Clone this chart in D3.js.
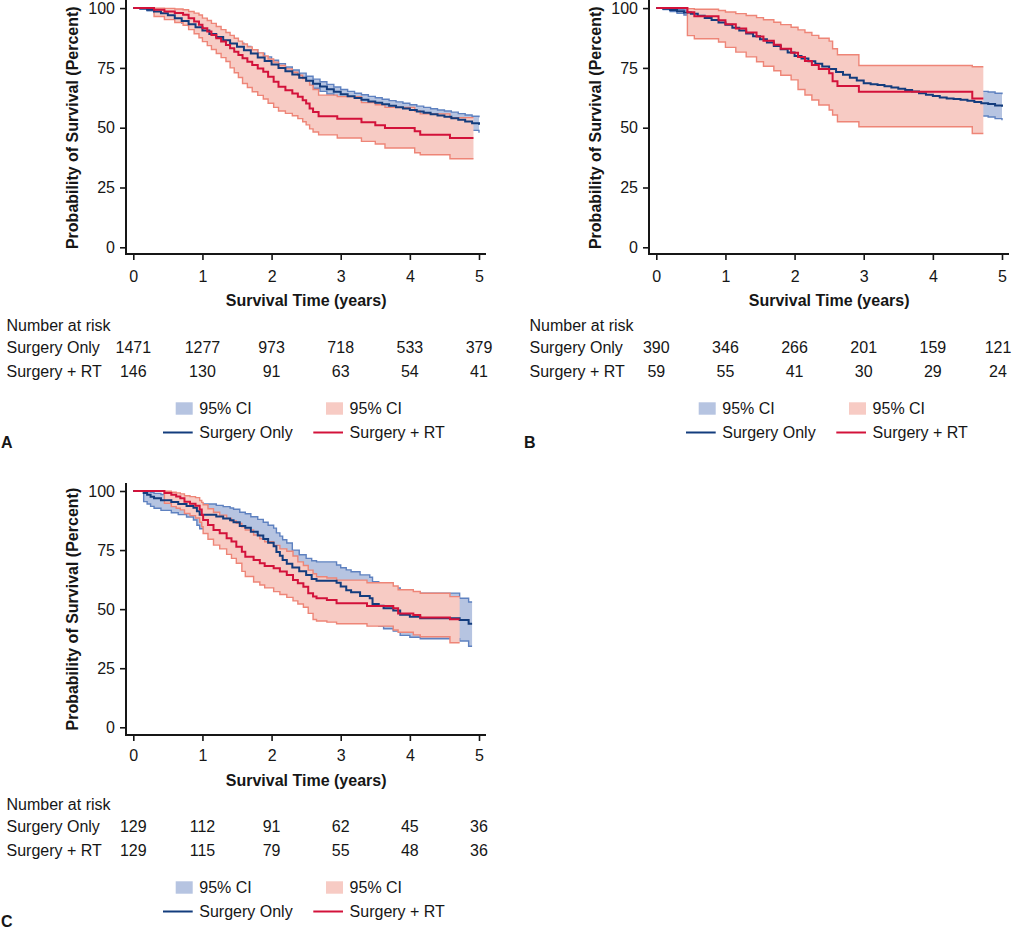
<!DOCTYPE html>
<html>
<head>
<meta charset="utf-8">
<script src="https://cdn.jsdelivr.net/npm/d3@7"></script>
<style>
  body { margin: 0; background: #fff; }
  svg { display: block; font-family: "Liberation Sans", Arial, Helvetica, sans-serif; }
</style>
</head>
<body>
<svg id="chart" width="1012" height="929"></svg>
<script>
// ---- shared labels / ticks
const years = [0, 1, 2, 3, 4, 5]
const percentTicks = [0, 25, 50, 75, 100]
const groups = ['Surgery Only', 'Surgery + RT']
const ciLabel = '95% CI'
const panelLetters = ['A', 'B', 'C']
const xTitle = 'Survival Time (years)'
const yTitle = 'Probability of Survival (Percent)'
const riskTitle = 'Number at risk'

// ---- panel A
const tenthYears = [0,0.1,0.2,0.3,0.4,0.5,0.6,0.7,0.8,0.9,1,1.1,1.2,1.3,1.4,1.5,1.6,1.7,1.8,1.9,2,2.1,2.2,2.3,2.4,2.5,2.6,2.7,2.8,2.9,3,3.1,3.2,3.3,3.4,3.5,3.6,3.7,3.8,3.9,4,4.1,4.2,4.3,4.4,4.5,4.6,4.7,4.8,4.9,5]
const aOnlySurv = [100,99.8,99.3,98.6,97.8,97.0,95.8,94.6,93.3,92.0,90.6,89.2,87.9,86.6,85.2,83.8,82.4,81.0,79.4,77.9,76.4,75.0,73.6,72.2,70.9,69.6,68.4,67.2,66.1,65.0,64.0,63.2,62.4,61.7,61.0,60.4,59.8,59.2,58.6,58.0,57.4,56.8,56.2,55.6,55.1,54.6,54.0,53.3,52.6,51.9,51.2]
const aOnlyLow = [100,99.6,98.9,98.1,97.2,96.3,95.0,93.7,92.3,90.9,89.4,87.9,86.6,85.2,83.7,82.3,80.8,79.4,77.7,76.2,74.6,73.2,71.8,70.3,69.0,67.7,66.5,65.2,64.1,63.0,62.0,61.2,60.4,59.6,58.9,58.3,57.7,57.1,56.4,55.8,55.2,54.6,53.9,53.3,52.8,52.2,51.5,50.7,49.9,48.9,47.9]
const aOnlyHigh = [100,100,99.7,99.1,98.4,97.7,96.6,95.5,94.3,93.1,91.8,90.5,89.2,88.0,86.7,85.3,84.0,82.6,81.1,79.6,78.2,76.8,75.4,74.1,72.8,71.5,70.3,69.2,68.1,67.0,66.0,65.2,64.4,63.8,63.1,62.5,61.9,61.3,60.8,60.2,59.6,59.0,58.5,57.9,57.4,57.0,56.5,55.9,55.3,54.8,54.4]

const aRtTime = [0,0.3,0.45,0.6,0.72,0.8,0.88,0.95,1.0,1.07,1.13,1.2,1.27,1.34,1.4,1.46,1.52,1.58,1.65,1.72,1.8,1.88,1.95,2.03,2.1,2.2,2.3,2.38,2.45,2.5,2.55,2.6,2.68,2.95,3.3,3.5,3.64,4.07,4.15,4.58,4.92]
const aRtSurv = [100,99.3,98.6,97.9,97.2,95.8,94.4,93.0,91.6,90.2,88.8,87.4,86.0,84.6,83.2,81.8,80.4,79.0,77.6,76.2,74.8,73.4,71.3,69.2,67.1,65.7,64.3,62.9,61.5,60.1,58.0,56.6,54.8,53.7,52.3,51.0,49.9,48.5,47.1,45.7,45.7]
const aRtLow = [100,96.5,95.2,94.0,92.8,91.0,89.3,87.6,86.0,84.3,82.7,81.0,79.3,77.7,75.0,73.0,71.0,68.5,66.8,65.0,63.5,62.0,60.2,58.5,57.0,56.0,55.0,53.8,52.5,51.2,49.5,48.2,47.0,45.7,44.3,43.2,41.5,39.5,38.7,37.0,37.0]
const aRtHigh = [100,100,99.9,99.6,99.3,98.6,97.9,97.1,95.8,94.8,93.6,92.3,91.0,89.8,88.6,87.4,86.2,85.0,83.8,82.6,81.3,80.0,78.7,77.4,76.0,74.6,73.2,71.9,70.6,69.5,67.8,66.0,63.6,63.0,60.5,59.6,58.5,57.0,55.8,54.2,54.2]

const aRiskOnly = [1471, 1277, 973, 718, 533, 379]
const aRiskRt = [146, 130, 91, 63, 54, 41]

// ---- panel B
const bOnlySurv = [100,99.7,99.2,98.7,98.2,97.6,96.8,95.9,95.0,94.0,93.0,91.8,90.6,89.4,88.2,87.0,85.6,84.2,82.8,81.4,80.0,78.9,77.8,76.7,75.6,74.5,73.3,72.1,70.9,69.7,68.6,68.2,67.8,67.3,66.8,66.3,65.8,65.1,64.4,63.8,63.3,62.6,62.2,62.0,61.7,61.3,60.7,60.2,59.9,59.3,58.8]
const bOnlyLow = [100,99.4,98.6,97.8,97.1,96.3,95.2,94.1,93.0,91.8,90.6,89.2,87.8,86.5,85.1,83.8,82.2,80.7,79.2,77.7,76.2,75.0,73.8,72.6,71.4,70.2,68.9,67.7,66.4,65.1,64.0,63.5,63.1,62.6,62.0,61.5,61.0,60.2,59.5,58.8,58.3,57.6,57.1,56.9,56.6,56.1,55.5,54.9,54.5,53.8,53.1]
const bOnlyHigh = [100,100,99.8,99.5,99.2,98.8,98.3,97.6,96.9,96.1,95.3,94.3,93.3,92.2,91.2,90.1,88.9,87.6,86.3,85.0,83.7,82.7,81.7,80.7,79.7,78.7,77.6,76.4,75.3,74.1,73.1,72.7,72.3,71.8,71.4,70.9,70.4,69.8,69.1,68.6,68.1,67.4,67.0,66.8,66.5,66.2,65.6,65.2,64.9,64.4,64.0]

const bRtTime = [0,0.45,0.55,0.9,1.0,1.15,1.3,1.45,1.55,1.7,1.8,1.95,2.05,2.15,2.25,2.35,2.5,2.55,2.62,2.93,4.57,4.73]
const bRtSurv = [100,98.3,96.6,94.9,93.2,91.5,89.8,88.1,86.4,84.7,83.0,81.3,79.6,77.9,76.2,74.5,72.8,69.4,67.4,65.0,62.2,62.2]
const bRtLow = [100,88.5,87.2,85.8,83.6,81.6,79.6,77.6,75.7,73.8,71.9,70.0,66.0,63.7,61.6,59.5,57.4,55.3,52.5,50.4,47.6,47.6]
const bRtHigh = [100,99.8,99.5,99.0,98.4,97.7,96.9,96.0,95.1,94.1,93.1,92.0,90.9,89.8,88.6,87.4,86.2,83.0,80.5,76.0,75.5,75.5]

const bRiskOnly = [390, 346, 266, 201, 159, 121]
const bRiskRt = [59, 55, 41, 30, 29, 24]

// ---- panel C
const cOnlyTime = [0,0.15,0.2,0.25,0.3,0.4,0.55,0.65,0.77,0.87,0.92,0.96,1.2,1.3,1.4,1.45,1.54,1.62,1.7,1.8,1.88,1.95,2.03,2.07,2.12,2.16,2.22,2.3,2.4,2.5,2.58,2.65,2.94,3.0,3.08,3.15,3.28,3.42,3.46,3.55,3.62,3.76,3.86,4.0,4.15,4.72,4.85,4.9]
const cOnlySurv = [100,99.2,98.4,97.6,96.9,96.1,95.3,94.5,93.7,92.9,91.4,90.0,89.2,88.4,87.6,86.8,85.2,84.4,82.8,81.2,79.7,78.1,76.6,74.2,72.6,70.8,69.2,67.6,66.0,64.4,62.8,62.0,61.2,59.6,58.0,57.2,55.6,54.6,52.2,51.4,50.4,49.4,47.6,46.8,46.2,45.4,43.8,43.8]
const cOnlyLow = [100,95.5,94.5,93.5,92.7,91.8,90.8,90.0,89.0,87.7,85.5,84.0,83.0,82.0,81.0,80.0,78.2,77.2,75.5,73.8,72.0,70.3,68.7,66.2,64.5,62.6,60.9,59.2,57.6,56.0,54.3,53.5,52.6,51.0,49.3,48.5,46.9,45.9,43.5,42.7,41.7,40.7,38.9,38.1,37.5,36.5,34.3,34.3]
const cOnlyHigh = [100,100,99.8,99.4,99.0,98.5,98.0,97.6,97.1,96.6,95.5,94.5,93.9,93.4,92.8,92.3,91.0,90.4,89.1,88.0,86.8,85.5,84.3,82.3,80.9,79.4,78.0,75.0,73.0,71.5,70.5,70.0,68.7,67.5,66.6,65.8,64.5,63.5,61.6,60.8,59.9,59.0,58.1,57.3,56.8,54.6,53.0,53.0]

const cRtTime = [0,0.45,0.55,0.62,0.68,0.74,0.82,0.9,0.96,0.99,1.01,1.08,1.16,1.25,1.35,1.42,1.49,1.57,1.62,1.74,1.83,1.9,2.03,2.12,2.22,2.31,2.38,2.46,2.53,2.6,2.65,2.8,2.94,3.38,3.76,3.83,4.05,4.15,4.58,4.72]
const cRtSurv = [100,99.2,98.4,97.7,96.9,95.4,94.6,93.8,92.2,89.8,87.7,85.6,83.5,82.1,80.0,78.6,76.4,74.3,72.2,70.8,69.4,68.3,67.3,65.9,64.5,62.3,61.0,59.5,56.7,55.4,54.6,53.9,52.5,51.3,50.4,48.2,47.5,46.5,45.7,45.7]
const cRtLow = [100,94.8,93.4,92.7,92.0,90.5,89.6,88.6,86.8,84.9,82.0,79.6,77.1,75.5,73.2,71.5,69.4,66.0,63.8,61.5,60.2,59.0,57.4,56.2,55.0,53.5,52.2,50.8,48.2,45.6,45.0,44.5,43.8,42.8,41.2,40.2,39.1,38.3,35.8,35.8]
const cRtHigh = [100,99.9,99.5,99.2,98.8,98.0,97.6,97.2,96.0,95.2,94.2,92.5,91.0,89.8,88.4,87.3,86.3,84.8,83.5,81.4,79.8,78.5,77.0,75.5,74.5,72.5,70.0,68.5,66.5,65.0,63.7,63.2,62.3,61.2,59.8,58.2,57.5,56.7,55.3,55.3]

const cRiskOnly = [129, 112, 91, 62, 45, 36]
const cRiskRt = [129, 115, 79, 55, 48, 36]

// ---- styles
const BLUE_LINE = '#133c7d'
const RED_LINE = '#d3123a'
const BLUE_FILL = '#b6c4e1'
const BLUE_EDGE = '#5e81c0'
const PINK_FILL = '#f7cbc4'
const PINK_EDGE = '#ee8577'
const INK = '#161616'

const svg = d3.select('#chart')

const toRows = (t, s, lo, hi) => t.map((d, i) => ({t: d, s: s[i], lo: lo[i], hi: hi[i]}))

const panels = [
  {letter: panelLetters[0], ox: 0, yTop: 8.1, yBot: 247.3, axisY: 254, tickPad: 11, titleY: 300, narY: 325,
   only: toRows(tenthYears, aOnlySurv, aOnlyLow, aOnlyHigh), rt: toRows(aRtTime, aRtSurv, aRtLow, aRtHigh),
   risk: [aRiskOnly, aRiskRt]},
  {letter: panelLetters[1], ox: 523, yTop: 8.1, yBot: 247.3, axisY: 254, tickPad: 11, titleY: 300, narY: 325,
   only: toRows(tenthYears, bOnlySurv, bOnlyLow, bOnlyHigh), rt: toRows(bRtTime, bRtSurv, bRtLow, bRtHigh),
   risk: [bRiskOnly, bRiskRt]},
  {letter: panelLetters[2], ox: 0, yTop: 491, yBot: 727.3, axisY: 735, tickPad: 8.5, titleY: 780, narY: 804,
   only: toRows(cOnlyTime, cOnlySurv, cOnlyLow, cOnlyHigh), rt: toRows(cRtTime, cRtSurv, cRtLow, cRtHigh),
   risk: [cRiskOnly, cRiskRt]}
]

function drawPanel(p){
  const g = svg.append('g').attr('transform', `translate(${p.ox},0)`)
  const x = d3.scaleLinear().domain([0, 5]).range([133.3, 479])
  const y = d3.scaleLinear().domain([0, 100]).range([p.yBot, p.yTop])

  const band = d3.area().curve(d3.curveStepAfter)
    .x(d => x(d.t)).y0(d => y(d.lo)).y1(d => y(d.hi))
  const edge = key => d3.line().curve(d3.curveStepAfter).x(d => x(d.t)).y(d => y(d[key]))

  // confidence bands: surgery only first, surgery + RT on top
  ;[[p.only, BLUE_FILL, BLUE_EDGE], [p.rt, PINK_FILL, PINK_EDGE]].forEach(([rows, fill, stroke]) => {
    g.append('path').datum(rows).attr('d', band).attr('fill', fill)
    ;['lo', 'hi'].forEach(k => {
      g.append('path').datum(rows).attr('d', edge(k))
        .attr('fill', 'none').attr('stroke', stroke).attr('stroke-width', 1.4)
    })
  })

  // survival estimates
  ;[[p.only, BLUE_LINE], [p.rt, RED_LINE]].forEach(([rows, color]) => {
    g.append('path').datum(rows).attr('d', edge('s'))
      .attr('fill', 'none').attr('stroke', color).attr('stroke-width', 2)
  })

  // axes (L shaped frame)
  const yAxis = g.append('g').attr('transform', 'translate(126,0)')
    .call(d3.axisLeft(y).tickValues(percentTicks).tickSize(6).tickPadding(5))
  const xAxis = g.append('g').attr('transform', `translate(0,${p.axisY})`)
    .call(d3.axisBottom(x).tickValues(years).tickFormat(d3.format('d')).tickSize(6).tickPadding(p.tickPad))
  ;[yAxis, xAxis].forEach(a => {
    a.select('.domain').remove()
    a.selectAll('line').attr('stroke', INK).attr('stroke-width', 1.6)
    a.selectAll('text').attr('fill', INK).style('font-size', '16px')
      .style('font-family', '"Liberation Sans", Arial, sans-serif')
  })
  g.append('path')
    .attr('d', `M126,${p.yTop - 8}V${p.axisY}H486`)
    .attr('fill', 'none').attr('stroke', INK).attr('stroke-width', 2)

  // axis titles
  g.append('text').attr('x', (x(0) + x(5)) / 2).attr('y', p.titleY).attr('dy', '0.35em')
    .attr('text-anchor', 'middle').attr('font-weight', 'bold').attr('font-size', 16).attr('fill', INK)
    .text(xTitle)
  g.append('text').attr('transform', `translate(72,${(p.yTop + p.yBot) / 2}) rotate(-90)`).attr('dy', '0.35em')
    .attr('text-anchor', 'middle').attr('font-weight', 'bold').attr('font-size', 16).attr('fill', INK)
    .text(yTitle)

  // number at risk table (last column kept inside the page)
  const maxX = 1012 - p.ox - 14
  const tbl = g.append('g').attr('font-size', 16).attr('fill', INK)
  tbl.append('text').attr('x', 6.5).attr('y', p.narY).attr('dy', '0.35em').text(riskTitle)
  groups.forEach((name, r) => {
    const ry = p.narY + 22.7 + r * 23.3
    tbl.append('text').attr('x', 6.5).attr('y', ry).attr('dy', '0.35em').text(name)
    tbl.selectAll(null).data(p.risk[r]).join('text')
      .attr('x', (d, i) => Math.min(x(years[i]), maxX)).attr('y', ry).attr('dy', '0.35em')
      .attr('text-anchor', 'middle').text(d => d)
  })

  // legend
  const lg = g.append('g').attr('font-size', 16).attr('fill', INK)
  const legY = p.narY + 83.5
  ;[[175.7, BLUE_FILL, BLUE_LINE, groups[0]], [326, PINK_FILL, RED_LINE, groups[1]]].forEach(([lx, fill, color, name]) => {
    lg.append('rect').attr('x', lx).attr('y', legY - 6.2).attr('width', 17).attr('height', 12.4).attr('fill', fill)
    lg.append('text').attr('x', lx + 23.6).attr('y', legY).attr('dy', '0.35em').text(ciLabel)
    lg.append('line').attr('x1', lx - 12.7).attr('x2', lx + 17).attr('y1', legY + 24).attr('y2', legY + 24)
      .attr('stroke', color).attr('stroke-width', 2)
    lg.append('text').attr('x', lx + 23.6).attr('y', legY + 24).attr('dy', '0.35em').text(name)
  })

  g.append('text').attr('x', 1).attr('y', p.narY + 117.3).attr('dy', '0.35em')
    .attr('font-weight', 'bold').attr('font-size', 16).attr('fill', INK).text(p.letter)
}

panels.forEach(drawPanel)
</script>
</body>
</html>
